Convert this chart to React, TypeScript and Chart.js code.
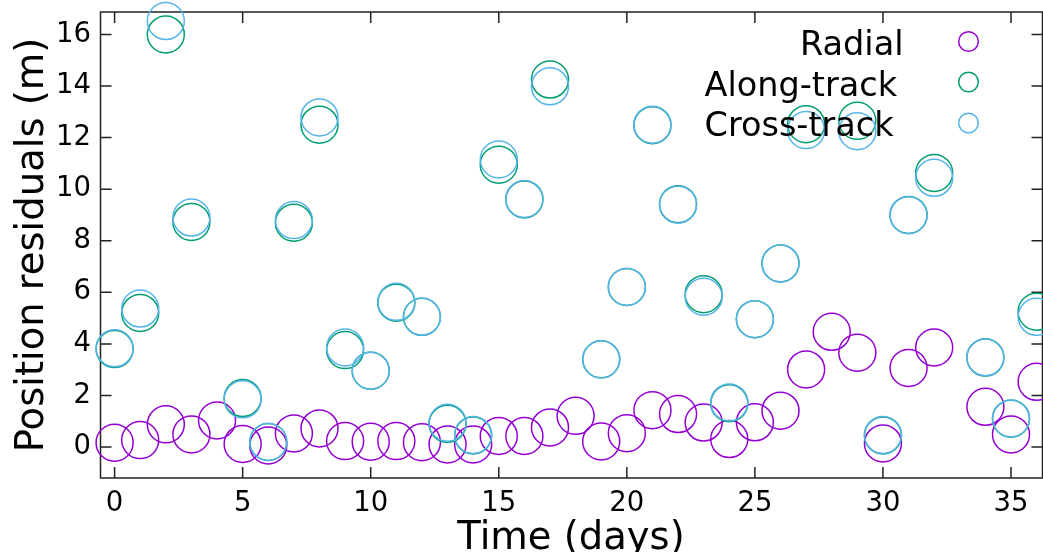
import { useEffect, useRef } from "react";
import { Chart, registerables } from "chart.js";

Chart.register(...registerables);

const FONT = "'DejaVu Sans', 'Liberation Sans', sans-serif";

const days = [0, 1, 2, 3, 4, 5, 6, 7, 8, 9, 10, 11, 12, 13, 14, 15, 16, 17, 18, 19, 20, 21, 22, 23, 24, 25, 26, 27, 28, 29, 30, 31, 32, 33, 34, 35, 36];

const radial: (number | null)[] = [
  0.17, 0.27, 0.88, 0.49, 1.03, 0.12, 0.06, 0.53, 0.72, 0.23, 0.21, 0.23, 0.19, 0.1, 0.1, 0.43, 0.43, 0.76, 1.21,
  0.22, 0.54, 1.43, 1.28, 0.95, 0.31, 0.96, 1.41, 3.01, 4.47, 3.66, 0.14, 3.07, 3.86, null, 1.56, 0.49, 2.53,
];

const alongTrack: (number | null)[] = [
  3.8, 5.2, 16.0, 8.73, null, 1.9, 0.2, 8.7, 12.5, 3.76, 2.96, 5.6, 5.05, 0.9, 0.45, 10.95, 9.6, 14.25, null,
  3.4, 6.21, 12.48, 9.42, 5.93, 1.7, 4.96, 7.12, 12.52, null, 12.65, 0.45, 9.0, 10.63, null, 3.47, 1.1, 5.25,
];

const crossTrack: (number | null)[] = [
  3.83, 5.37, 16.52, 8.9, null, 1.85, 0.2, 8.8, 12.78, 3.86, 2.96, 5.63, 5.05, 0.94, 0.47, 11.15, 9.62, 13.99, null,
  3.4, 6.21, 12.5, 9.4, 5.83, 1.73, 4.96, 7.12, 12.29, null, 12.25, 0.47, 8.99, 10.44, null, 3.48, 1.11, 5.05,
];

const seriesNames = ["Radial", "Along-track", "Cross-track"];
const seriesColors = ["#9400D3", "#009E73", "#56B4E9"];

const xTickValues = [0, 5, 10, 15, 20, 25, 30, 35];
const yTickValues = [0, 2, 4, 6, 8, 10, 12, 14, 16];

const X_MIN = -0.57;
const X_MAX = 36.21;
const Y_MIN = -1.2;
const Y_MAX = 16.87;

const toPoints = (vals: (number | null)[]) =>
  days
    .map((d, i) => ({ x: d, y: vals[i] }))
    .filter((p) => p.y !== null) as { x: number; y: number }[];

const frameColor = "#222";

const zeroPad = () => ({ left: 0, top: 0, right: 0, bottom: 0 });

const resetPadding = (s: any) => {
  s.paddingLeft = 0;
  s.paddingRight = 0;
  s.paddingTop = 0;
  s.paddingBottom = 0;
  s.getPadding = zeroPad;
};

const framePlugin = {
  id: "gnuplotFrame",
  beforeDatasetsDraw(chart: any) {
    const { ctx, chartArea } = chart;
    const { left, right, top, bottom } = chartArea;
    const xs = chart.scales.x;
    const ys = chart.scales.y;
    ctx.save();
    ctx.strokeStyle = frameColor;
    ctx.lineWidth = 1.5;
    ctx.beginPath();
    ctx.rect(left + 0.5, top, right - left, bottom - top);
    ctx.stroke();
    const tl = 11;
    ctx.beginPath();
    xTickValues.forEach((v) => {
      const px = xs.getPixelForValue(v);
      ctx.moveTo(px, bottom);
      ctx.lineTo(px, bottom - tl);
      ctx.moveTo(px, top);
      ctx.lineTo(px, top + tl);
    });
    yTickValues.forEach((v) => {
      const py = ys.getPixelForValue(v);
      ctx.moveTo(left + 0.5, py);
      ctx.lineTo(left + 0.5 + tl, py);
      ctx.moveTo(right + 0.5, py);
      ctx.lineTo(right + 0.5 - tl, py);
    });
    ctx.stroke();
    ctx.restore();
  },
};

const legendPlugin = {
  id: "gnuplotLegend",
  afterDraw(chart: any) {
    const { ctx } = chart;
    const baselines = [55, 95.5, 136];
    const textX = [903.5, 704.5, 704.5];
    const textAlign = ["right", "left", "left"];
    const markerY = [41.5, 82, 123];
    ctx.save();
    ctx.font = `33.5px ${FONT}`;
    ctx.fillStyle = "#000";
    ctx.textBaseline = "alphabetic";
    seriesNames.forEach((name, i) => {
      ctx.textAlign = textAlign[i];
      ctx.fillText(name, textX[i], baselines[i]);
      ctx.beginPath();
      ctx.strokeStyle = seriesColors[i];
      ctx.lineWidth = 1.5;
      ctx.arc(968.5, markerY[i], 9.8, 0, Math.PI * 2);
      ctx.stroke();
    });
    ctx.restore();
  },
};

export default function App() {
  const ref = useRef<HTMLCanvasElement>(null);

  useEffect(() => {
    document.body.style.margin = "0";
    const seriesValues = [radial, alongTrack, crossTrack];
    const chart = new Chart(ref.current!, {
      type: "scatter",
      data: {
        datasets: seriesNames.map((name, i) => ({
          label: name,
          data: toPoints(seriesValues[i]),
          borderColor: seriesColors[i],
          backgroundColor: "rgba(0,0,0,0)",
          pointRadius: 18.5,
          pointHoverRadius: 18.5,
          pointBorderWidth: 1.5,
          pointStyle: "circle",
          order: 3 - i,
          clip: false as any,
        })),
      },
      options: {
        responsive: false,
        animation: false,
        devicePixelRatio: 1,
        layout: { autoPadding: false, padding: { top: 12, right: 1, left: 0, bottom: 0 } },
        plugins: {
          legend: { display: false },
          tooltip: { enabled: false },
          title: { display: false },
        },
        events: [],
        scales: {
          x: {
            type: "linear",
            min: X_MIN,
            max: X_MAX,
            afterBuildTicks: (s: any) => {
              s.ticks = xTickValues.map((v) => ({ value: v }));
            },
            afterFit: (s: any) => {
              s.height = 74;
              resetPadding(s);
            },
            grid: { display: false, drawTicks: false },
            border: { display: false },
            ticks: {
              font: { family: FONT, size: 27.5 },
              color: "#000",
              padding: 9,
              maxRotation: 0,
              autoSkip: false,
            },
            title: {
              display: true,
              text: "Time (days)",
              font: { family: FONT, size: 38.5 },
              color: "#000",
              padding: { top: 0, bottom: -10 },
            },
          },
          y: {
            type: "linear",
            min: Y_MIN,
            max: Y_MAX,
            afterBuildTicks: (s: any) => {
              s.ticks = yTickValues.map((v) => ({ value: v }));
            },
            afterFit: (s: any) => {
              s.width = 100;
              resetPadding(s);
            },
            grid: { display: false, drawTicks: false },
            border: { display: false },
            ticks: {
              font: { family: FONT, size: 27.5 },
              color: "#000",
              padding: 9,
              autoSkip: false,
            },
            title: {
              display: true,
              text: "Position residuals (m)",
              font: { family: FONT, size: 38.5 },
              color: "#000",
              padding: { top: 10, bottom: 0 },
            },
          },
        },
      },
      plugins: [framePlugin, legendPlugin],
    });
    return () => chart.destroy();
  }, []);

  return (
    <div style={{ position: "fixed", left: 0, top: 0, width: 1043, height: 552 }}>
      <canvas ref={ref} width={1043} height={552} style={{ display: "block" }} />
    </div>
  );
}
